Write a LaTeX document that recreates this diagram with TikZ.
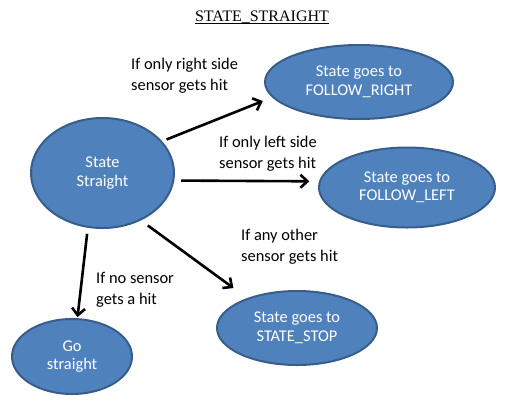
\documentclass[tikz,border=0pt]{standalone}
\usepackage{fontspec}
\setmainfont{Carlito}
\newfontfamily\titlefont{Liberation Serif}
\usetikzlibrary{shapes.geometric,arrows.meta}
\definecolor{stfill}{HTML}{4F81BD}
\definecolor{stdraw}{HTML}{385D8A}
\begin{document}
\begin{tikzpicture}[x=1pt,y=-1pt,
  txt/.style={font=\fontsize{16.4}{21}\selectfont},
  st/.style={ellipse,draw=stdraw,fill=stfill,line width=2pt,inner sep=0pt,
    text=white,align=center,font=\fontsize{16.4}{18.5}\selectfont},
  lbl/.style={txt,anchor=base west,align=left,inner sep=0pt},
  arr/.style={line width=2.6pt,-{Straight Barb[length=7pt,width=13pt]}}]
\useasboundingbox (0,0) rectangle (516,402);
\fill[white] (0,0) rectangle (516,402);
% title
\node[font=\titlefont\fontsize{16}{19}\selectfont,anchor=base,inner sep=0pt] (title) at (262,21.7) {STATE\_STRAIGHT};
\draw[line width=0.9pt] ([yshift=-2.2pt]title.base west) -- ([yshift=-2.2pt]title.base east);
% states
\node[st,minimum width=143pt,minimum height=110pt] (s) at (102.5,173) {State\\Straight};
\node[st,minimum width=188pt,minimum height=74pt] (fr) at (359,82) {State goes to\\FOLLOW\_RIGHT};
\node[st,minimum width=176pt,minimum height=80pt] (fl) at (407,187.5) {State goes to\\FOLLOW\_LEFT};
\node[st,minimum width=160pt,minimum height=74pt] (sp) at (297,328) {State goes to\\STATE\_STOP};
\node[st,minimum width=120pt,minimum height=75pt] (gs) at (72,356.5) {Go\\straight};
% arrows
\draw[arr,shorten <=4.7pt,shorten >=10pt] (s.28.5) -- (fr.190);
\draw[arr,shorten <=6.8pt,shorten >=9.7pt] (s.-6.6) -- (fl.176.8);
\draw[arr,shorten <=8.5pt,shorten >=17pt] (s.-51.7) -- (sp.149.3);
\draw[arr,shorten <=6pt,shorten >=1pt] (s.255.5) -- (gs.82.6);
% labels (anchor is the baseline of the last line)
\node[lbl] (l1) at (131,90.5) {If only right side\\sensor gets hit};
\node[lbl] (l2) at (219,168.5) {If only left side\\sensor gets hit};
\node[lbl] (l3) at (241,261) {If any other\\sensor gets hit};
\node[lbl] (l4) at (96,304.5) {If no sensor\\gets a hit};
\end{tikzpicture}
\end{document}
